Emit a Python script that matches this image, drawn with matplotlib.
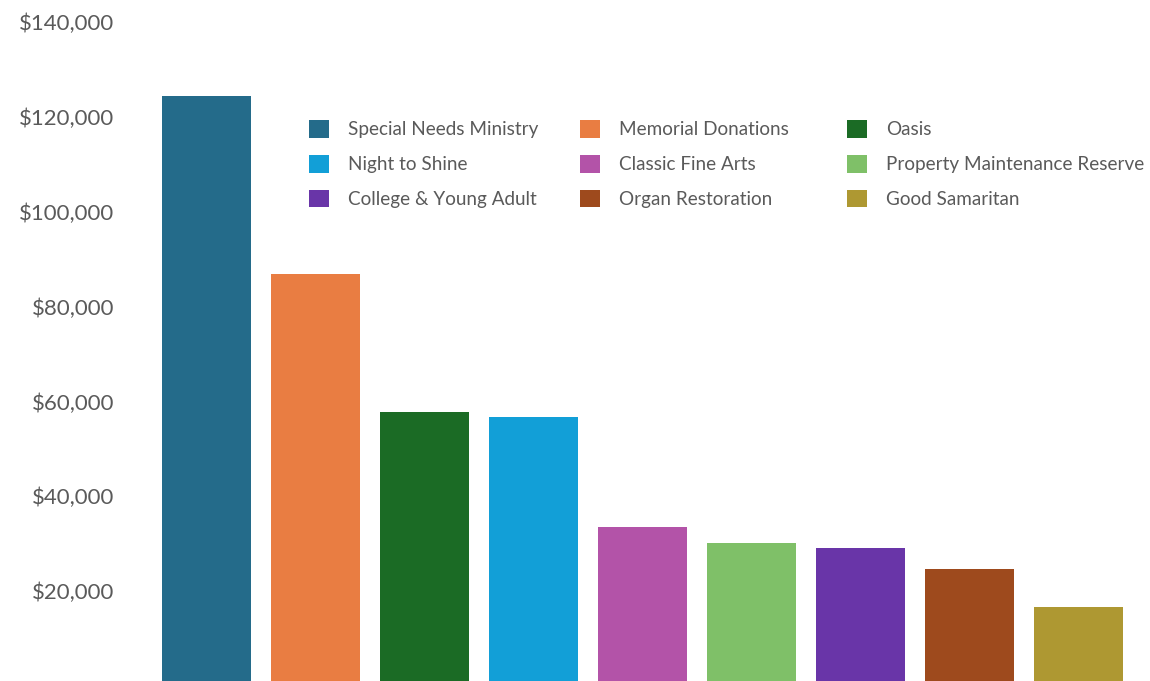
import matplotlib
matplotlib.use('Agg')
import matplotlib.pyplot as plt
from matplotlib.ticker import FuncFormatter

plt.rcParams['font.family'] = ['Lato', 'DejaVu Sans']

funds = ['Special Needs Ministry', 'Memorial Donations', 'Oasis', 'Night to Shine',
         'Classic Fine Arts', 'Property Maintenance Reserve', 'College & Young Adult',
         'Organ Restoration', 'Good Samaritan']
amounts = [124500, 86800, 57700, 56700, 33500, 30100, 29100, 24700, 16700]
colors = ['#246b8a', '#e97d42', '#1b6b25', '#129fd7', '#b353a8',
          '#7fc068', '#6935a8', '#9e4a1d', '#ae9832']
yticks = [20000, 40000, 60000, 80000, 100000, 120000, 140000]

W, H = 1150, 681
fig = plt.figure(figsize=(W / 100, H / 100), dpi=100, facecolor='white')
# axes placed in pixels; zero line sits just below the image edge
ax = fig.add_axes([141 / W, (681 - 686) / H, 1003 / W, (686 - 22) / H])

bars = ax.bar(range(len(funds)), amounts, width=0.815, color=colors)
ax.set_xlim(-0.6, 8.6)
ax.set_ylim(0, 140000)
ax.set_yticks(yticks)
ax.yaxis.set_major_formatter(FuncFormatter(lambda v, p: '${:,.0f}'.format(v)))
ax.tick_params(axis='y', length=0, pad=19, labelsize=16, labelcolor='#5a5a5a')
ax.set_xticks([])
for s in ax.spines.values():
    s.set_visible(False)

gray = '#5a5a5a'
col_x = [309, 580, 847]
for c in range(3):
    idx = [c, c + 3, c + 6]
    leg = fig.legend([bars[i] for i in idx], [funds[i] for i in idx],
                     loc='upper left', bbox_to_anchor=(col_x[c] / W, (681 - 120) / H),
                     frameon=False, fontsize=13.6, handlelength=1.06, handleheight=1.06,
                     handletextpad=1.0, labelspacing=0.88, borderpad=0, borderaxespad=0)
    for t in leg.get_texts():
        t.set_color(gray)

fig.savefig('out.png', dpi=100, facecolor='white')
